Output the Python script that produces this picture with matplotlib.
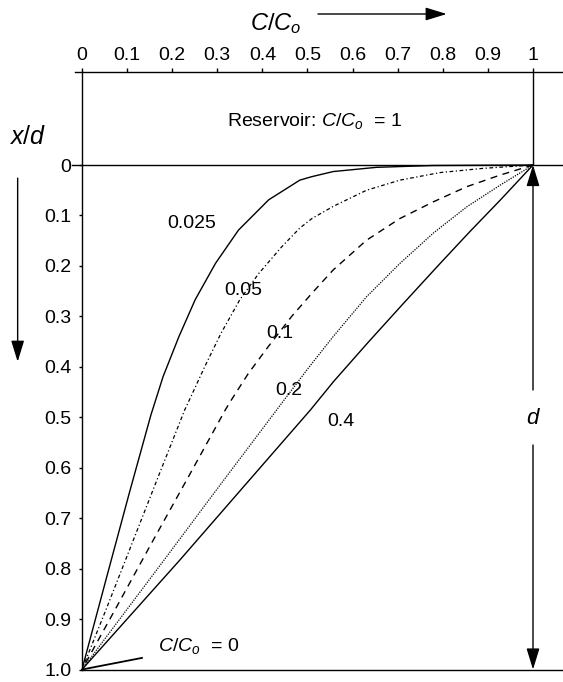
import matplotlib
matplotlib.use("Agg")
import matplotlib.pyplot as plt

# Concentration profiles
# depth x/d and the matching C/Co for each curve
y_025 = [0.0, 0.001, 0.0046, 0.013, 0.023, 0.030, 0.069, 0.129, 0.195, 0.267, 0.340, 0.419, 0.495, 0.650, 0.816, 1.0]
c_025 = [1.0, 0.778, 0.653, 0.557, 0.510, 0.483, 0.414, 0.347, 0.296, 0.251, 0.215, 0.180, 0.153, 0.105, 0.055, 0.0]

y_05 = [0.0, 0.0066, 0.015, 0.030, 0.050, 0.082, 0.106, 0.125, 0.162, 0.215, 0.267, 0.334, 0.400, 0.466, 0.485, 0.618, 0.750, 0.882, 1.0]
c_05 = [1.0, 0.890, 0.794, 0.705, 0.631, 0.557, 0.510, 0.483, 0.443, 0.392, 0.350, 0.308, 0.272, 0.238, 0.228, 0.169, 0.111, 0.053, 0.0]

y_1 = [0.0, 0.020, 0.043, 0.073, 0.106, 0.149, 0.208, 0.254, 0.300, 0.360, 0.413, 0.466, 0.485, 0.618, 0.750, 0.882, 1.0]
c_1 = [1.0, 0.927, 0.853, 0.779, 0.705, 0.631, 0.557, 0.510, 0.465, 0.413, 0.369, 0.331, 0.318, 0.236, 0.154, 0.073, 0.0]

y_2 = [0.0, 0.040, 0.083, 0.135, 0.195, 0.261, 0.340, 0.400, 0.466, 0.485, 0.650, 0.783, 0.915, 1.0]
c_2 = [1.0, 0.927, 0.853, 0.779, 0.705, 0.631, 0.557, 0.504, 0.448, 0.432, 0.293, 0.182, 0.071, 0.0]

y_4 = [0.0, 0.069, 0.132, 0.201, 0.277, 0.353, 0.429, 0.485, 0.637, 0.783, 0.934, 1.0]
c_4 = [1.0, 0.928, 0.860, 0.788, 0.710, 0.633, 0.558, 0.507, 0.359, 0.217, 0.066, 0.0]

curve_labels = ["0.025", "0.05", "0.1", "0.2", "0.4"]
label_x = [0.244, 0.358, 0.439, 0.458, 0.574]
label_y = [0.116, 0.249, 0.334, 0.446, 0.509]

x_ticks = [0, 0.1, 0.2, 0.3, 0.4, 0.5, 0.6, 0.7, 0.8, 0.9, 1.0]
x_ticklabels = ["0", "0.1", "0.2", "0.3", "0.4", "0.5", "0.6", "0.7", "0.8", "0.9", "1"]
y_ticks = [0, 0.1, 0.2, 0.3, 0.4, 0.5, 0.6, 0.7, 0.8, 0.9, 1.0]
y_ticklabels = ["0", "0.1", "0.2", "0.3", "0.4", "0.5", "0.6", "0.7", "0.8", "0.9", "1.0"]

plt.rcParams["font.family"] = ["Liberation Sans", "DejaVu Sans"]
plt.rcParams["mathtext.fontset"] = "custom"
plt.rcParams["mathtext.rm"] = "Liberation Sans"
plt.rcParams["mathtext.it"] = "Liberation Sans:italic"

fig = plt.figure(figsize=(5.63, 6.82), dpi=100)
ax = fig.add_axes([0.1456, 0.0183, 0.8544, 0.8761])

y_top = -0.1843
x_right = 1.0665
ax.set_xlim(0, x_right)
ax.set_ylim(1.0, y_top)

# curves
ax.plot(c_025, y_025, color="black", lw=1.0)
ax.plot(c_05, y_05, color="black", lw=0.9, linestyle=(0, (3, 2, 1, 2)))
ax.plot(c_1, y_1, color="black", lw=1.0, linestyle=(0, (5, 4)))
ax.plot(c_2, y_2, color="black", lw=0.9, linestyle=(0, (1, 1)))
ax.plot(c_4, y_4, color="black", lw=1.0)

for lab, lx, ly in zip(curve_labels, label_x, label_y):
    ax.text(lx, ly, lab, fontsize=14, ha="center", va="center")

# frame
ax.spines["right"].set_visible(False)
for s in ["left", "top", "bottom"]:
    ax.spines[s].set_linewidth(1.0)
ax.spines["top"].set_bounds(-0.015, x_right)
ax.axhline(0, xmin=-0.02, xmax=1, color="black", lw=1.0, clip_on=False)
ax.vlines(1.0, y_top, 0, color="black", lw=1.0)

ax.xaxis.tick_top()
ax.set_xticks(x_ticks)
ax.set_xticklabels(x_ticklabels)
ax.set_yticks(y_ticks)
ax.set_yticklabels(y_ticklabels)
ax.tick_params(axis="x", direction="out", length=3, width=1, pad=2.5, labelsize=14)
ax.tick_params(axis="y", direction="out", length=2.5, width=1, pad=5, labelsize=14)

# annotations
ax.text(0.516, -0.088, r"Reservoir: $C/C_o$  = 1", fontsize=14, ha="center", va="center")
ax.text(0.259, 0.953, r"$C/C_o$  = 0", fontsize=14, ha="center", va="center")
ax.plot([0, 0.133], [1.0, 0.977], color="black", lw=1.3, clip_on=False)

# d arrow
ax.text(1.0, 0.503, r"$d$", fontsize=16, ha="center", va="center")
arrow = dict(arrowstyle="-|>,head_length=1.3,head_width=0.4", color="black", lw=1.0, shrinkA=0, shrinkB=0)
ax.annotate("", xy=(1.0, 0.0), xytext=(1.0, 0.446), arrowprops=arrow)
ax.annotate("", xy=(1.0, 1.0), xytext=(1.0, 0.555), arrowprops=arrow, annotation_clip=False)

# left x/d label and down arrow
fig.text(28 / 563, 1 - 137 / 682, r"$x/d$", fontsize=18, ha="center", va="center")
ax.annotate("", xy=(-0.1426, 0.39), xytext=(-0.1426, 0.026), arrowprops=arrow, annotation_clip=False)

# top C/Co label and right arrow
fig.text(276 / 563, 1 - 24 / 682, r"$C/C_o$", fontsize=17, ha="center", va="center")
ax.annotate("", xy=(446.7 / 563, 1 - 14 / 682), xytext=(318 / 563, 1 - 14 / 682),
            xycoords="figure fraction", textcoords="figure fraction", arrowprops=arrow)

fig.savefig("out.png", dpi=100)
